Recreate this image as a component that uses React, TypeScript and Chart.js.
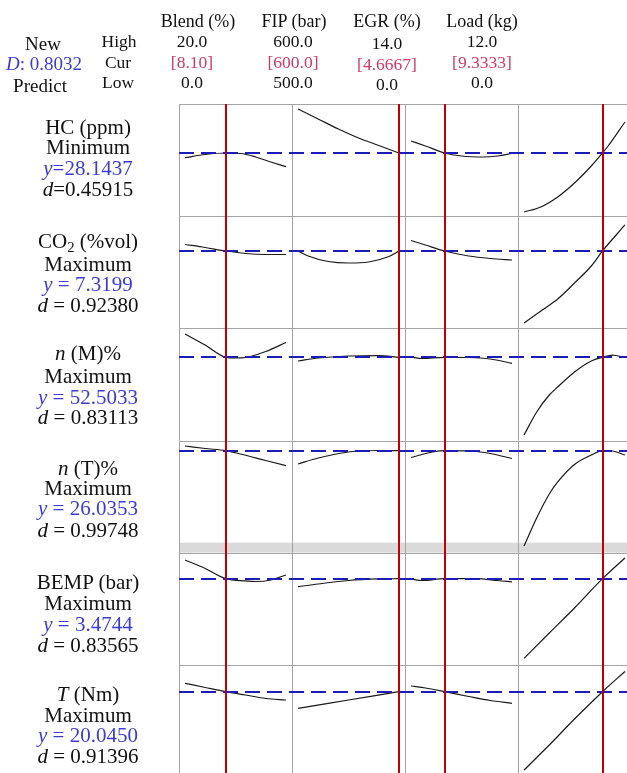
import React, { useEffect, useRef } from 'react';
import { Chart, registerables } from 'chart.js';

Chart.register(...registerables);

// ---- factors (columns) ----
const factorNames = ['Blend (%)', 'FIP (bar)', 'EGR (%)', 'Load (kg)'];
const highLabels = ['20.0', '600.0', '14.0', '12.0'];
const curLabels = ['[8.10]', '[600.0]', '[4.6667]', '[9.3333]'];
const lowLabels = ['0.0', '500.0', '0.0', '0.0'];
const factorLow = [0, 500, 0, 0];
const factorHigh = [20, 600, 14, 12];
const factorCur = [8.1, 600, 4.6667, 9.3333];

// ---- responses (rows) ----
const goals = ['Minimum', 'Maximum', 'Maximum', 'Maximum', 'Maximum', 'Maximum'];
const predicted = [28.1437, 7.3199, 52.5033, 26.0353, 3.4744, 20.045];
const predictedLabels = ['y=28.1437', 'y = 7.3199', 'y = 52.5033', 'y = 26.0353', 'y = 3.4744', 'y = 20.0450'];
const desirLabels = ['d=0.45915', 'd = 0.92380', 'd = 0.83113', 'd = 0.99748', 'd = 0.83565', 'd = 0.91396'];
const responseLow = [2.86, 3.455, 10.9, 5.64, 1.322, 7.25];
const responseHigh = [47.74, 9.06, 67.0, 28.08, 4.124, 24.08];

// ---- response curves: [factor setting, predicted response] ----
const hcBlend = [[0, 26.26], [4, 27.54], [8.1, 28.14], [11, 27.94], [14, 26.54], [17, 24.54], [20, 22.66]];
const hcFip = [[500, 45.74], [520, 41.74], [540, 37.74], [560, 34.14], [580, 31.14], [600, 28.14]];
const hcEgr = [[0, 32.94], [2, 30.94], [4.6667, 28.14], [7, 26.94], [10, 26.54], [12, 26.94], [14, 27.94]];
const hcLoad = [[0, 4.54], [2, 6.54], [4, 10.54], [6, 16.14], [8, 22.94], [9.3333, 28.14], [10, 30.94], [12, 40.54]];

const co2Blend = [[0, 7.645], [4, 7.495], [8.1, 7.32], [12, 7.195], [16, 7.145], [20, 7.145]];
const co2Fip = [[500, 7.32], [510, 7.07], [530, 6.795], [550, 6.72], [570, 6.77], [590, 7.045], [600, 7.32]];
const co2Egr = [[0, 7.845], [2, 7.62], [4.6667, 7.32], [8, 7.07], [11, 6.945], [14, 6.87]];
const co2Load = [[0, 3.72], [2, 4.32], [4, 4.92], [6, 5.72], [8, 6.57], [9.3333, 7.32], [12, 8.62]];

const nmBlend = [[0, 64.15], [4, 58.65], [8.1, 52.5], [10, 52.15], [12, 52.4], [16, 55.4], [20, 59.9]];
const nmFip = [[500, 50.65], [520, 52.15], [550, 53.15], [580, 53.4], [600, 52.5]];
const nmEgr = [[0, 52.65], [1.5, 51.9], [4.6667, 52.5], [8, 52.4], [11, 51.65], [14, 49.5]];
const nmLoad = [[0, 13.65], [1.5, 25.15], [3, 33.65], [4, 37.65], [6, 45.15], [8, 50.65], [9.3333, 52.5], [10.5, 53.65], [12, 52.4]];

const ntBlend = [[0, 26.98], [4, 26.48], [8.1, 26.04], [11, 25.38], [16, 24.08], [20, 23.04]];
const ntFip = [[500, 23.38], [520, 24.58], [550, 25.78], [580, 26.08], [600, 26.04]];
const ntEgr = [[0, 24.68], [3, 25.78], [4.6667, 26.04], [8, 25.98], [11, 25.48], [14, 24.48]];
const ntLoad = [[0, 6.98], [1.5, 12.58], [3, 17.38], [4, 19.78], [6, 23.28], [8, 25.18], [9.3333, 26.04], [10.5, 25.98], [12, 25.18]];

const bempBlend = [[0, 3.942], [4, 3.729], [8.1, 3.474], [12, 3.417], [14, 3.404], [17, 3.442], [20, 3.567]];
const bempFip = [[500, 3.274], [520, 3.342], [550, 3.429], [580, 3.467], [600, 3.474]];
const bempEgr = [[0, 3.467], [1.5, 3.429], [4.6667, 3.474], [9, 3.474], [12, 3.429], [14, 3.392]];
const bempLoad = [[0, 1.484], [3, 2.117], [6, 2.742], [9.3333, 3.474], [12, 3.992]];

const tBlend = [[0, 21.31], [4, 20.68], [8.1, 20.05], [12, 19.55], [16, 19.03], [20, 18.8]];
const tFip = [[500, 17.55], [550, 18.8], [600, 20.05]];
const tEgr = [[0, 20.9], [2, 20.6], [4.6667, 20.05], [8, 19.33], [11, 18.73], [14, 18.31]];
const tLoad = [[0, 8.3], [3, 12.05], [6, 15.95], [9.3333, 20.05], [12, 23.08]];

const curves = [
  [hcBlend, hcFip, hcEgr, hcLoad],
  [co2Blend, co2Fip, co2Egr, co2Load],
  [nmBlend, nmFip, nmEgr, nmLoad],
  [ntBlend, ntFip, ntEgr, ntLoad],
  [bempBlend, bempFip, bempEgr, bempLoad],
  [tBlend, tFip, tEgr, tLoad],
];

const FONT = '"Liberation Serif", "Times New Roman", serif';
const BLUE_TEXT = '#3c3cd2';
const RED_TEXT = '#cc3a66';

const optimizerPlugin = {
  id: 'optimizerOverlay',
  beforeDatasetsDraw(chart: any) {
    const { ctx, chartArea } = chart;
    ctx.save();
    // grey separator band at the bottom of the 4th row
    const r5 = chart.scales.y4;
    ctx.fillStyle = '#dadada';
    ctx.fillRect(chartArea.left, r5.top - 10, chartArea.right - chartArea.left, 10);
    ctx.strokeStyle = '#a4a4a4';
    ctx.lineWidth = 1;
    ctx.beginPath();
    for (let j = 0; j < 4; j++) {
      const s = chart.scales['x' + j];
      const x = Math.round(s.left) + 0.5;
      ctx.moveTo(x, chartArea.top);
      ctx.lineTo(x, chartArea.bottom);
    }
    for (let i = 0; i < 6; i++) {
      const s = chart.scales['y' + i];
      const y = Math.round(s.top) + 0.5;
      ctx.moveTo(chartArea.left, y);
      ctx.lineTo(chartArea.right, y);
    }
    ctx.stroke();
    ctx.restore();
  },
  afterDatasetsDraw(chart: any) {
    const { ctx, chartArea } = chart;
    ctx.save();
    ctx.strokeStyle = '#1c1cb8';
    ctx.lineWidth = 2;
    ctx.setLineDash([15, 7]);
    for (let i = 0; i < 6; i++) {
      const y = Math.round(chart.scales['y' + i].getPixelForValue(predicted[i]));
      ctx.beginPath();
      ctx.moveTo(chartArea.left, y);
      ctx.lineTo(chartArea.right, y);
      ctx.stroke();
    }
    ctx.setLineDash([]);
    ctx.strokeStyle = '#c00000';
    ctx.lineWidth = 2;
    for (let j = 0; j < 4; j++) {
      const x = Math.round(chart.scales['x' + j].getPixelForValue(factorCur[j]));
      ctx.beginPath();
      ctx.moveTo(x, chartArea.top);
      ctx.lineTo(x, chartArea.bottom);
      ctx.stroke();
    }
    ctx.restore();
  },
};

function Txt(props: { x: number; y: number; size: number; color?: string; children: any }) {
  return (
    <div
      style={{
        position: 'absolute',
        left: props.x,
        top: props.y,
        transform: 'translate(-50%, -50%)',
        whiteSpace: 'nowrap',
        fontFamily: FONT,
        fontSize: props.size,
        lineHeight: 1,
        color: props.color || '#111',
      }}
    >
      {props.children}
    </div>
  );
}

const colX = [192, 293, 387, 482];
const colTitleX = [198, 294, 387, 482];
const colYOffset = [0, 0, 2, 0];
const rowLabelY = [
  [127, 147, 168, 189],
  [243, 264, 284, 305],
  [353, 376, 397, 417],
  [468, 488, 508, 530],
  [582, 603, 624, 645],
  [694, 715, 735, 756],
];

function responseName(i: number) {
  const it = (s: string) => <span style={{ fontStyle: 'italic' }}>{s}</span>;
  switch (i) {
    case 0: return <>HC (ppm)</>;
    case 1: return <>CO<sub style={{ fontSize: '0.7em', verticalAlign: '-0.25em' }}>2</sub> (%vol)</>;
    case 2: return <>{it('n')} (M)%</>;
    case 3: return <>{it('n')} (T)%</>;
    case 4: return <>BEMP (bar)</>;
    default: return <>{it('T')} (Nm)</>;
  }
}

function withItalicFirst(s: string) {
  return <><span style={{ fontStyle: 'italic' }}>{s[0]}</span>{s.slice(1)}</>;
}

export default function App() {
  const canvasRef = useRef<HTMLCanvasElement | null>(null);

  useEffect(() => {
    const canvas = canvasRef.current;
    if (!canvas) return;
    const scales: any = {};
    factorLow.forEach((lo, j) => {
      const r = factorHigh[j] - lo;
      scales['x' + j] = {
        type: 'linear', axis: 'x', position: 'bottom', stack: 'factors', stackWeight: 1,
        min: lo - 0.06 * r, max: factorHigh[j] + 0.06 * r, display: false,
      };
    });
    // left-positioned stacked axes are laid out in reverse insertion order,
    // so add the last response first to get the first response on top
    for (let i = responseLow.length - 1; i >= 0; i--) {
      scales['y' + i] = {
        type: 'linear', axis: 'y', position: 'left', stack: 'responses', stackWeight: 1,
        min: responseLow[i], max: responseHigh[i], display: false,
      };
    }
    const datasets: any[] = [];
    curves.forEach((row, i) => {
      row.forEach((pts, j) => {
        datasets.push({
          label: 'r' + i + 'f' + j,
          data: pts.map(([x, y]) => ({ x, y })),
          xAxisID: 'x' + j,
          yAxisID: 'y' + i,
          showLine: true,
          pointRadius: 0,
          borderColor: '#1a1a1a',
          borderWidth: 1.2,
          cubicInterpolationMode: 'monotone',
          fill: false,
          clip: false,
        });
      });
    });
    const chart = new Chart(canvas, {
      type: 'scatter',
      data: { datasets },
      options: {
        responsive: false,
        animation: false,
        devicePixelRatio: 1,
        layout: { padding: { left: 179, top: 104, right: 9, bottom: 3 } },
        scales,
        plugins: { legend: { display: false }, tooltip: { enabled: false } },
      },
      plugins: [optimizerPlugin],
    } as any);
    return () => chart.destroy();
  }, []);

  return (
    <div style={{ position: 'absolute', left: 0, top: 0, width: 627, height: 773, overflow: 'hidden', background: '#fff' }}>
      <canvas ref={canvasRef} width={640} height={780} style={{ position: 'absolute', left: 0, top: 0, display: 'block' }} />
      {/* header left block */}
      <Txt x={43} y={43} size={19}>New</Txt>
      <Txt x={44} y={63} size={19} color={BLUE_TEXT}><span style={{ fontStyle: 'italic' }}>D</span>: 0.8032</Txt>
      <Txt x={40} y={85} size={19}>Predict</Txt>
      <Txt x={119} y={42} size={17.5}>High</Txt>
      <Txt x={118} y={63} size={17.5}>Cur</Txt>
      <Txt x={118} y={83} size={17.5}>Low</Txt>
      {factorNames.map((n, j) => (
        <Txt key={'fn' + j} x={colTitleX[j]} y={21} size={18}>{n}</Txt>
      ))}
      {highLabels.map((n, j) => (
        <Txt key={'hi' + j} x={colX[j]} y={42 + colYOffset[j]} size={17.5}>{n}</Txt>
      ))}
      {curLabels.map((n, j) => (
        <Txt key={'cu' + j} x={colX[j]} y={63 + colYOffset[j]} size={17.5} color={RED_TEXT}>{n}</Txt>
      ))}
      {lowLabels.map((n, j) => (
        <Txt key={'lo' + j} x={colX[j]} y={83 + colYOffset[j]} size={17.5}>{n}</Txt>
      ))}
      {/* response labels */}
      {goals.map((g, i) => (
        <React.Fragment key={'rl' + i}>
          <Txt x={88} y={rowLabelY[i][0]} size={21}>{responseName(i)}</Txt>
          <Txt x={88} y={rowLabelY[i][1]} size={21}>{g}</Txt>
          <Txt x={88} y={rowLabelY[i][2]} size={21} color={BLUE_TEXT}>{withItalicFirst(predictedLabels[i])}</Txt>
          <Txt x={88} y={rowLabelY[i][3]} size={21}>{withItalicFirst(desirLabels[i])}</Txt>
        </React.Fragment>
      ))}
    </div>
  );
}
